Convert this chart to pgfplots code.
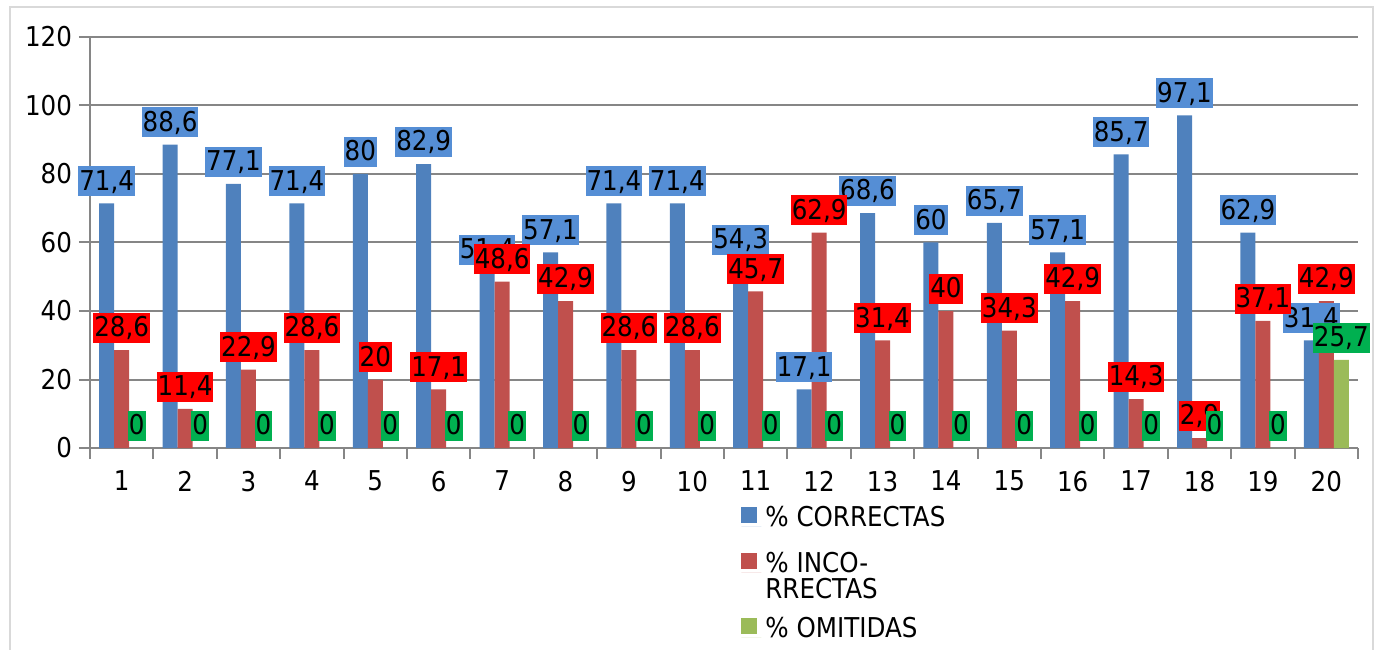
\documentclass[border=0pt]{standalone}
\usepackage{pgfplots}
\pgfplotsset{compat=1.18}
\usepackage{fontspec}
\setmainfont{DejaVu Sans}[FakeStretch=0.9]
\definecolor{barblue}{HTML}{4F81BD}
\definecolor{barred}{HTML}{C0504D}
\definecolor{bargreen}{HTML}{9BBB59}
\definecolor{lblblue}{HTML}{558ED5}
\definecolor{lblred}{HTML}{FF0000}
\definecolor{lblgreen}{HTML}{00B050}
\definecolor{gridgray}{HTML}{868686}
\definecolor{framegray}{HTML}{D9D9D9}
\newcommand\cfont{\fontsize{13.7}{11.5}\selectfont}
% legend entry with fixed height/depth: #1 height, #2 depth, #3 text
\newcommand\lentry[3]{\rule[-#2]{0pt}{\dimexpr#1+#2\relax}\smash{#3}}
\pgfplotsset{
  lbl/.style n args={2}{nodes near coords, draw=none, fill=none, forget plot,
    every node near coord/.append style={font=\cfont, text=black, fill=#1, draw=none,
      anchor=south, xshift=#2, yshift=3.5bp, inner xsep=0.5bp, inner ysep=1bp,
      text height=11bp, text depth=2bp}},
}
\begin{document}
\begin{tikzpicture}
\path[use as bounding box] (-45bp,-101bp) rectangle (644.5bp,224bp);
\draw[framegray, line width=1bp] (-40bp,-120bp) rectangle (641.5bp,220.5bp);
\begin{axis}[
 scale only axis, width=634bp, height=205.5bp,
 xmin=0.5, xmax=20.5, ymin=0, ymax=120,
 axis lines*=left,
 axis line style={gridgray, line width=1bp},
 ymajorgrids, grid style={gridgray, line width=1bp},
 xtick={1,...,20}, minor xtick={0.5,1.5,...,20.5},
 ytick={0,20,...,120},
 tick align=outside, major tick length=5.5bp, minor tick length=5.5bp,
 tick style={gridgray, line width=1bp},
 major x tick style={draw=none},
 tick label style={font=\cfont},
 xticklabel style={yshift=-2.5bp},
 /pgf/number format/.cd, fixed, precision=1, use comma, assume math mode=true,
 /pgfplots/.cd,
 legend style={draw=none, fill=none, font=\cfont, inner sep=0pt,
   at={(axis description cs:0.5134,-0.1314)}, anchor=north west,
   row sep=0bp, cells={anchor=base west, inner ysep=0pt}},
 legend image code/.code={\path (0bp,0bp) -- (10bp,0bp);\fill[#1] (0bp,1.5bp) rectangle (8bp,9.5bp);},
]
\addplot[ybar, bar width=7.5bp, bar shift=-7.5bp, fill=barblue, draw=none] coordinates {
 (1,71.4) (2,88.6) (3,77.1) (4,71.4) (5,80) (6,82.9) (7,51.4) (8,57.1) (9,71.4) (10,71.4)
 (11,54.3) (12,17.1) (13,68.6) (14,60) (15,65.7) (16,57.1) (17,85.7) (18,97.1) (19,62.9) (20,31.4)};
\addlegendentry{\lentry{10bp}{5bp}{\% CORRECTAS}}
\addplot[ybar, bar width=7.5bp, bar shift=0bp, fill=barred, draw=none] coordinates {
 (1,28.6) (2,11.4) (3,22.9) (4,28.6) (5,20) (6,17.1) (7,48.6) (8,42.9) (9,28.6) (10,28.6)
 (11,45.7) (12,62.9) (13,31.4) (14,40) (15,34.3) (16,42.9) (17,14.3) (18,2.9) (19,37.1) (20,42.9)};
\addlegendentry{\lentry{17.5bp}{0bp}{\% INCO-}}
\addlegendimage{empty legend}
\addlegendentry{\lentry{7.5bp}{0bp}{RRECTAS}}
\addplot[ybar, bar width=7.5bp, bar shift=7.5bp, fill=bargreen, draw=none] coordinates {
 (1,0) (2,0) (3,0) (4,0) (5,0) (6,0) (7,0) (8,0) (9,0) (10,0)
 (11,0) (12,0) (13,0) (14,0) (15,0) (16,0) (17,0) (18,0) (19,0) (20,25.7)};
\addlegendentry{\lentry{14bp}{0bp}{\% OMITIDAS}}
% data labels drawn over all bars
\addplot[ybar, bar width=7.5bp, bar shift=-7.5bp, lbl={lblblue}{-7.5bp}] coordinates {
 (1,71.4) (2,88.6) (3,77.1) (4,71.4) (5,80) (6,82.9) (7,51.4) (8,57.1) (9,71.4) (10,71.4)
 (11,54.3) (12,17.1) (13,68.6) (14,60) (15,65.7) (16,57.1) (17,85.7) (18,97.1) (19,62.9) (20,31.4)};
\addplot[ybar, bar width=7.5bp, bar shift=0bp, lbl={lblred}{0bp}] coordinates {
 (1,28.6) (2,11.4) (3,22.9) (4,28.6) (5,20) (6,17.1) (7,48.6) (8,42.9) (9,28.6) (10,28.6)
 (11,45.7) (12,62.9) (13,31.4) (14,40) (15,34.3) (16,42.9) (17,14.3) (18,2.9) (19,37.1) (20,42.9)};
\addplot[ybar, bar width=7.5bp, bar shift=7.5bp, lbl={lblgreen}{7.5bp}] coordinates {
 (1,0) (2,0) (3,0) (4,0) (5,0) (6,0) (7,0) (8,0) (9,0) (10,0)
 (11,0) (12,0) (13,0) (14,0) (15,0) (16,0) (17,0) (18,0) (19,0) (20,25.7)};
\end{axis}
\end{tikzpicture}
\end{document}
